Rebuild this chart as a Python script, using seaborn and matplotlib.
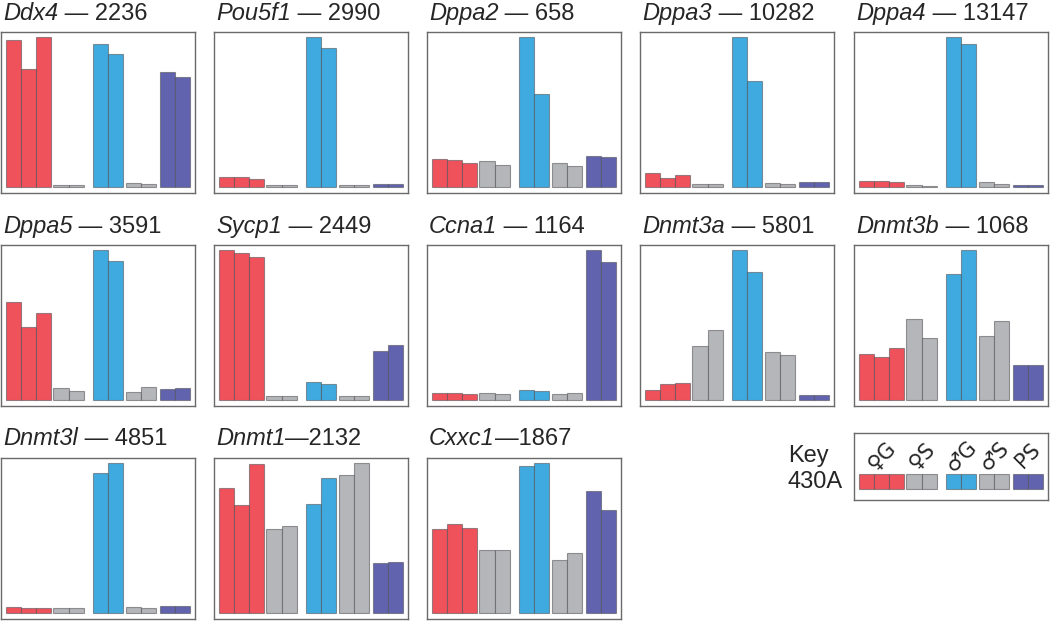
#!/usr/bin/env python3
"""Small multiples: expression of germline / pluripotency genes across 5 sample groups."""

import matplotlib

matplotlib.use("Agg")
import matplotlib.pyplot as plt
import pandas as pd
import seaborn as sns

# ---------------------------------------------------------------------------
# Data (bar heights relative to the panel maximum)
# ---------------------------------------------------------------------------

GROUPS = ["♀G", "♀G", "♀G", "♀S", "♀S", "♂G", "♂G", "♂S", "♂S", "PS", "PS"]
GROUP_ORDER = ["♀G", "♀S", "♂G", "♂S", "PS"]

DDX4 = [0.978, 0.785, 1.0, 0.013, 0.013, 0.951, 0.885, 0.024, 0.018, 0.767, 0.734]
POU5F1 = [0.064, 0.064, 0.055, 0.016, 0.016, 1.0, 0.927, 0.016, 0.016, 0.020, 0.022]
DPPA2 = [0.184, 0.177, 0.157, 0.171, 0.149, 1.0, 0.621, 0.160, 0.140, 0.208, 0.202]
DPPA3 = [0.091, 0.060, 0.080, 0.020, 0.020, 1.0, 0.707, 0.024, 0.022, 0.031, 0.031]
DPPA4 = [0.038, 0.038, 0.033, 0.011, 0.009, 1.0, 0.956, 0.031, 0.018, 0.016, 0.016]
DPPA5 = [0.652, 0.486, 0.583, 0.082, 0.060, 1.0, 0.927, 0.053, 0.089, 0.073, 0.080]
SYCP1 = [1.0, 0.980, 0.956, 0.027, 0.029, 0.118, 0.106, 0.027, 0.024, 0.326, 0.370]
CCNA1 = [0.044, 0.049, 0.040, 0.047, 0.038, 0.067, 0.062, 0.040, 0.047, 1.0, 0.918]
DNMT3A = [0.067, 0.106, 0.115, 0.361, 0.466, 1.0, 0.854, 0.317, 0.299, 0.033, 0.031]
DNMT3B = [0.304, 0.288, 0.346, 0.539, 0.412, 0.838, 1.0, 0.426, 0.528, 0.231, 0.231]
DNMT3L = [0.040, 0.035, 0.031, 0.033, 0.033, 0.933, 1.0, 0.040, 0.035, 0.044, 0.044]
DNMT1 = [0.836, 0.723, 0.991, 0.561, 0.579, 0.729, 0.900, 0.922, 1.0, 0.333, 0.339]
CXXC1 = [0.561, 0.596, 0.570, 0.421, 0.417, 0.978, 1.0, 0.355, 0.399, 0.812, 0.685]

GENE_NAMES = ["Ddx4", "Pou5f1", "Dppa2", "Dppa3", "Dppa4",
              "Dppa5", "Sycp1", "Ccna1", "Dnmt3a", "Dnmt3b",
              "Dnmt3l", "Dnmt1", "Cxxc1"]
GENE_COUNTS = ["2236", "2990", "658", "10282", "13147",
               "3591", "2449", "1164", "5801", "1068",
               "4851", "2132", "1867"]
SEPARATORS = [" — "] * 11 + ["—", "—"]
GENE_VALUES = [DDX4, POU5F1, DPPA2, DPPA3, DPPA4,
               DPPA5, SYCP1, CCNA1, DNMT3A, DNMT3B,
               DNMT3L, DNMT1, CXXC1]

# ---------------------------------------------------------------------------
# Style / layout
# ---------------------------------------------------------------------------

PALETTE = {"♀G": "#F0525C", "♀S": "#B5B6B9", "♂G": "#3FAADF",
           "♂S": "#B5B6B9", "PS": "#6163AE"}
EDGE = (0.30, 0.30, 0.32, 0.55)
SPINE = "#6a6a6a"

# gap inserted before each new group (bar widths)
GROUP_GAPS = {"♀S": 0.15, "♂G": 0.60, "♂S": 0.18, "PS": 0.25}

W, H = 1050, 621
COL_LEFT = [1, 214, 427, 640, 854]
ROW_TOP = [32, 245, 458]
ROW_BASELINE = [20, 233, 445]
BOX_W, BOX_H = 194, 161
FONT = ["Liberation Sans", "DejaVu Sans"]
TITLE_SIZE = 17


def bar_positions(groups):
    pos, x, prev = [], 0.0, None
    for g in groups:
        if prev is not None and g != prev:
            x += GROUP_GAPS[g]
        pos.append(x + 0.5)
        x += 1.0
        prev = g
    return pos


POSITIONS = bar_positions(GROUPS)
XLIM = (-0.3, POSITIONS[-1] + 0.5 + 0.3)


def px_axes(fig, left, top, w, h):
    return fig.add_axes([left / W, 1 - (top + h) / H, w / W, h / H])


def style_box(ax):
    ax.set_xticks([])
    ax.set_yticks([])
    ax.set_xlabel("")
    ax.set_ylabel("")
    for s in ax.spines.values():
        s.set_visible(True)
        s.set_color(SPINE)
        s.set_linewidth(1.0)


def draw_bars(ax, values):
    df = pd.DataFrame({"pos": POSITIONS, "val": values, "grp": GROUPS})
    sns.barplot(
        data=df, x="pos", y="val", hue="grp", hue_order=GROUP_ORDER,
        palette=PALETTE, native_scale=True, dodge=False, width=1.0,
        errorbar=None, legend=False, edgecolor=EDGE, linewidth=0.8,
        saturation=1.0, ax=ax,
    )
    ax.set_xlim(*XLIM)


def main():
    sns.set_style("white")
    plt.rcParams["font.family"] = FONT

    fig = plt.figure(figsize=(W / 100, H / 100), dpi=100)
    renderer = fig.canvas.get_renderer()

    for i, (name, count, sep, vals) in enumerate(
        zip(GENE_NAMES, GENE_COUNTS, SEPARATORS, GENE_VALUES)
    ):
        r, c = divmod(i, 5)
        ax = px_axes(fig, COL_LEFT[c], ROW_TOP[r], BOX_W, BOX_H)
        draw_bars(ax, vals)
        ax.set_ylim(-6 / 150, 1 + 5 / 150)
        style_box(ax)

        tx = (COL_LEFT[c] + 2) / W
        ty = 1 - ROW_BASELINE[r] / H
        t1 = fig.text(tx, ty, name, fontsize=TITLE_SIZE, style="italic", va="baseline")
        wpx = t1.get_window_extent(renderer).width
        fig.text(tx + wpx / W, ty, sep + count, fontsize=TITLE_SIZE, va="baseline")

    # key panel
    kax = px_axes(fig, 854, 433, BOX_W, 67)
    draw_bars(kax, [1.0] * len(GROUPS))
    kax.set_ylim(-11 / 15, 56 / 15)
    style_box(kax)
    for g in GROUP_ORDER:
        xs = [p for p, gg in zip(POSITIONS, GROUPS) if gg == g]
        kax.text(sum(xs) / len(xs), 2.2, g, fontsize=15, rotation=45,
                 ha="center", va="center", family=["DejaVu Sans"])
    fig.text(788 / W, 1 - 462 / H, "Key", fontsize=TITLE_SIZE, va="baseline")
    fig.text(788 / W, 1 - 488 / H, "430A", fontsize=TITLE_SIZE, va="baseline")

    fig.savefig("out.png", dpi=100)
    plt.close(fig)


if __name__ == "__main__":
    main()
